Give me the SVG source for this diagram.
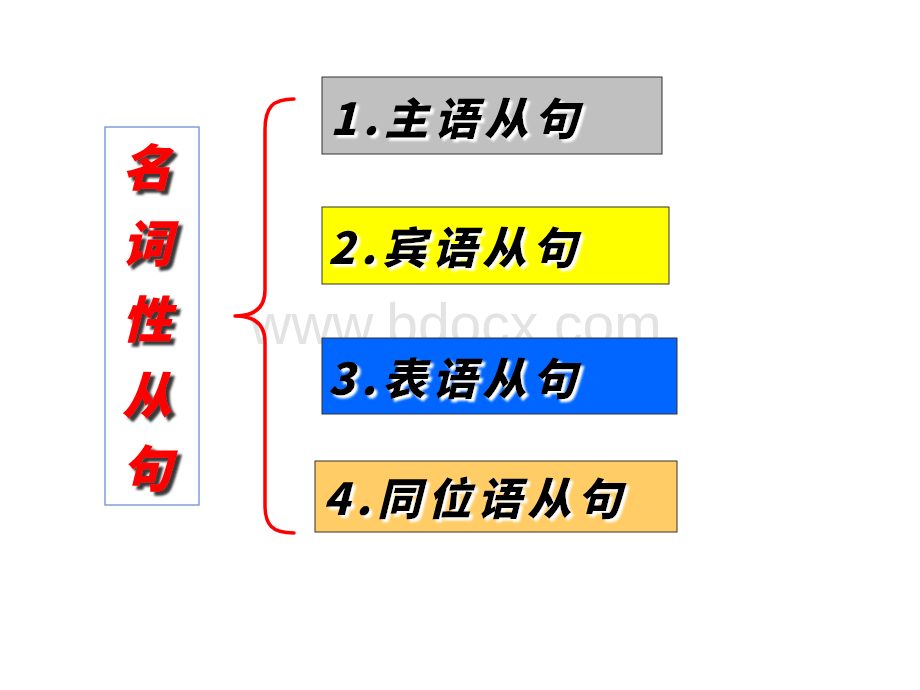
<svg xmlns="http://www.w3.org/2000/svg" width="920" height="690" viewBox="0 0 920 690">
<defs>
<style>
.cj{font-family:"Noto Sans CJK SC","Noto Sans CJK JP",sans-serif;font-weight:900;font-style:italic}
.lbl{font-size:44px;letter-spacing:6px;fill:#000000;filter:url(#wsh)}
.box{stroke:#333333;stroke-width:1}
.wm{font-family:"Liberation Sans",Arial,sans-serif;font-size:57px;fill:#e3e3e3}
</style>
<filter id="wsh" x="-10%" y="-20%" width="120%" height="150%"><feDropShadow dx="3" dy="3" stdDeviation="1.2" flood-color="#ffffff" flood-opacity="1"/></filter>
<filter id="dsh" x="-20%" y="-20%" width="150%" height="150%"><feDropShadow dx="4" dy="4" stdDeviation="1.3" flood-color="#222222" flood-opacity="0.9"/></filter>
</defs>
<rect width="920" height="690" fill="#ffffff"/>
<text class="wm" x="250" y="344">www.bdocx.com</text>

<g id="title">
<rect x="105" y="127" width="94" height="378" fill="#ffffff" stroke="#7f9fd8" stroke-width="1.5"/>
<g class="cj" font-size="50" text-anchor="middle" fill="#ff0000" filter="url(#dsh)">
<text x="147" y="186">名</text><text x="147" y="262">词</text><text x="147" y="338">性</text><text x="147" y="414">从</text><text x="147" y="487">句</text>
</g>
</g>

<g id="connectors">
<path d="M294,99 C272,99 265,108 265,130 L265,290 C265,306 256,316 235,316 C256,316 265,326 265,342 L265,505 C265,525 272,533 294,533" fill="none" stroke="#ff0000" stroke-width="3.5" stroke-linecap="round" stroke-linejoin="round"/>
</g>

<g id="n1">
<rect class="box" x="322" y="77" width="340" height="77" fill="#c0c0c0"/>
<text class="cj lbl" x="330" y="135">1.主语从句</text>
</g>
<g id="n2">
<rect class="box" x="322" y="207" width="347" height="77" fill="#ffff00"/>
<text class="cj lbl" x="328" y="264">2.宾语从句</text>
</g>
<g id="n3">
<rect class="box" x="322" y="338" width="355" height="76" fill="#0066ff"/>
<text class="cj lbl" x="328" y="395">3.表语从句</text>
</g>
<g id="n4">
<rect class="box" x="315" y="461" width="362" height="71" fill="#ffcc66"/>
<text class="cj lbl" font-size="40" letter-spacing="8" x="323" y="515">4.同位语从句</text>
</g>
</svg>
